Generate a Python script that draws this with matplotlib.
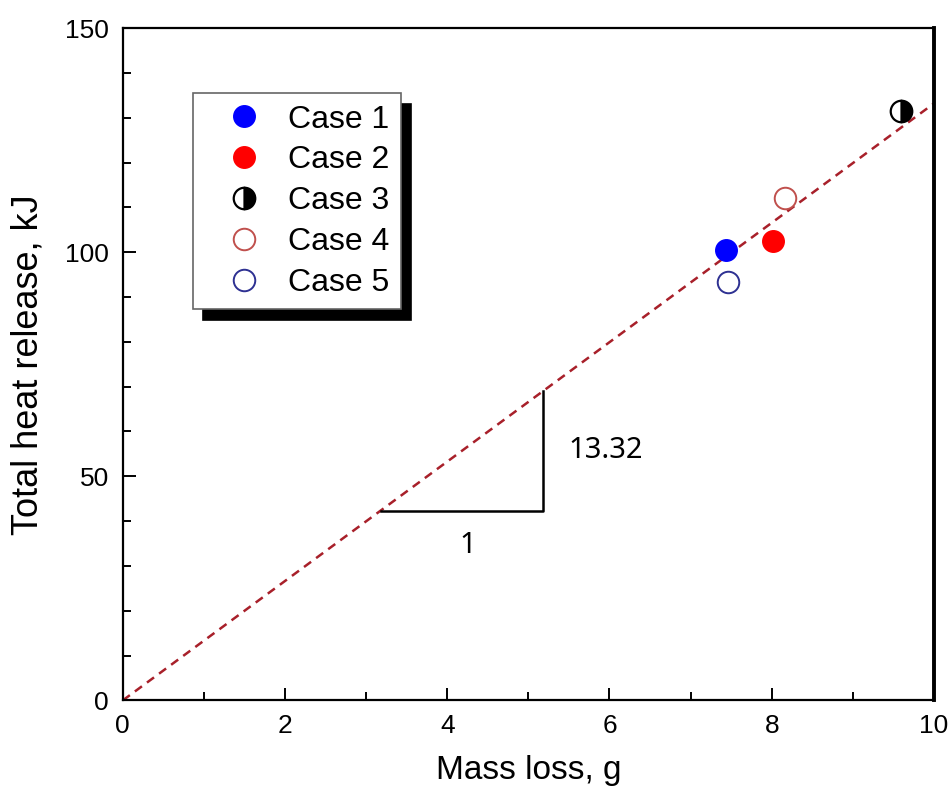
import numpy as np
import matplotlib.pyplot as plt

plt.rcParams['font.family'] = ['Liberation Sans', 'DejaVu Sans']

# data
cases = ['Case 1', 'Case 2', 'Case 3', 'Case 4', 'Case 5']
mass_loss = [7.44, 8.02, 9.6, 8.17, 7.46]
heat_release = [100.6, 102.5, 131.6, 112.0, 93.4]
slope = 13.32
tri_x = [3.18, 5.18]

fig = plt.figure(figsize=(9.52, 8.05), dpi=100)
ax = fig.add_axes([0.129, 0.13, 0.852, 0.835])

# fitted line through origin
xl = np.array([0, 10])
ax.plot(xl, slope * xl, ls=(0, (3.5, 2.5)), color='#a8202a', lw=1.8, zorder=1)

ms = 15.5
styles = [
    dict(marker='o', color='#0000ff', markerfacecolor='#0000ff', markeredgecolor='#0000ff'),
    dict(marker='o', color='#ff0000', markerfacecolor='#ff0000', markeredgecolor='#ff0000'),
    dict(marker='o', color='k', markerfacecolor='k', markerfacecoloralt='white',
         fillstyle='right', markeredgecolor='k', markeredgewidth=1.6),
    dict(marker='o', color='#c0504d', markerfacecolor='white', markeredgecolor='#c0504d', markeredgewidth=1.4),
    dict(marker='o', color='#2e3192', markerfacecolor='white', markeredgecolor='#2e3192', markeredgewidth=1.4),
]
for i in range(len(cases)):
    ax.plot([mass_loss[i]], [heat_release[i]], ls='none', ms=ms, label=cases[i], zorder=3, **styles[i])

# slope triangle
y0 = slope * tri_x[0]
y1 = slope * tri_x[1]
ax.plot([tri_x[0], tri_x[1], tri_x[1]], [y0, y0, y1], color='k', lw=1.8, zorder=2)
ax.text((tri_x[0] + tri_x[1]) / 2 + 0.07, y0 - 4.5, '1', ha='center', va='top',
        fontsize=21, family=['Noto Sans', 'DejaVu Sans'])
ax.text(tri_x[1] + 0.32, (y0 + y1) / 2, '13.32', ha='left', va='center',
        fontsize=21, family=['Noto Sans', 'DejaVu Sans'])

ax.set_xlim(0, 10)
ax.set_ylim(0, 150)
ax.set_xticks(np.arange(0, 11, 2))
ax.set_xticks(np.arange(0, 11, 1), minor=True)
ax.set_yticks([0, 50, 100, 150])
ax.set_yticks(np.arange(0, 151, 10), minor=True)
ax.tick_params(which='both', direction='in', labelsize=19, width=1.4)
ax.tick_params(which='major', length=9, pad=10)
ax.tick_params(which='minor', length=6)
ax.tick_params(axis='x', which='both', top=False)
for s in ax.spines.values():
    s.set_linewidth(1.6)
ax.spines['right'].set_linewidth(2.8)

ax.set_xlabel('Mass loss, g', fontsize=24, labelpad=12)
ax.set_ylabel('Total heat release, kJ', fontsize=26, labelpad=14)

leg = ax.legend(loc='upper left', bbox_to_anchor=(0.086, 0.903), borderaxespad=0,
                fontsize=23, fancybox=False, edgecolor='#666666', framealpha=1,
                labelspacing=0.34, handletextpad=0.15, borderpad=0.35, handlelength=2.5,
                shadow={'ox': 7.5, 'oy': -7.5, 'color': 'k', 'alpha': 1})
leg.get_frame().set_linewidth(1.2)

fig.savefig('out.png', dpi=100)
